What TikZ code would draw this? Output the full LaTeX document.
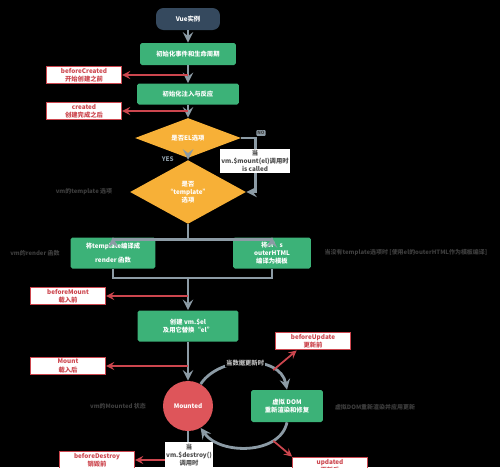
\documentclass[tikz,border=0pt]{standalone}
\usepackage{fontspec}
\setmainfont{Noto Sans CJK SC}
\usepackage{tikz}
\usetikzlibrary{shapes.geometric}

\definecolor{vuedark}{RGB}{53,73,94}
\definecolor{vuegreen}{RGB}{60,178,120}
\definecolor{vueorange}{RGB}{247,176,55}
\definecolor{mountred}{RGB}{222,85,90}
\definecolor{hookred}{RGB}{204,70,78}
\definecolor{wiregray}{RGB}{140,155,165}
\definecolor{dimgray}{RGB}{62,62,62}

\begin{document}
\begin{tikzpicture}[
    x=0.02cm, y=-0.02cm,
    every node/.style={font=\fontsize{3.6}{4.6}\selectfont\bfseries},
    start/.style={rectangle, fill=vuedark, text=white, rounded corners=0.15cm, minimum width=1.28cm, minimum height=0.44cm},
    stepbox/.style={rectangle, fill=vuegreen, text=white, rounded corners=1pt, align=center, inner sep=1pt},
    hook/.style={rectangle, draw=hookred, line width=0.8pt, fill=white, text=hookred, align=center, minimum width=1.5cm, minimum height=0.35cm, inner sep=0.5pt},
    note/.style={rectangle, fill=white, text=black!70, align=center, inner sep=0.5pt},
    cond/.style={diamond, fill=vueorange, text=white, align=center, inner sep=0pt},
    dim/.style={text=dimgray, font=\fontsize{3.4}{4.2}\selectfont\bfseries},
    arrow/.style={->, >=stealth, line width=1.6pt, draw=wiregray},
    wire/.style={line width=1.6pt, draw=wiregray},
    hookarrow/.style={->, >=stealth, line width=1pt, draw=hookred}
  ]
    % Background
    \fill[black] (0,0) rectangle (500,467);
    \useasboundingbox (0,0) rectangle (500,467);
    \clip (0,0) rectangle (500,467);

    % Creation
    \node[start] (vue) at (188,19) {Vue实例};
    \node[stepbox, minimum width=1.92cm, minimum height=0.44cm] (init1) at (188,54) {初始化事件和生命周期};
    \node[hook] (bc) at (84,75) {beforeCreated\\开始创建之前};
    \node[stepbox, minimum width=2.04cm, minimum height=0.42cm] (init2) at (188,94) {初始化注入与反应};
    \node[hook] (cr) at (84,111) {created\\创建完成之后};

    % Template choice
    \node[cond, minimum width=2.12cm, minimum height=0.8cm] (el) at (188,138) {是否EL选项};
    \node[cond, minimum width=2.32cm, minimum height=0.86cm] (tpl) at (188,192) {是否\\“template”\\选项};
    \node[dim] (tpltxt) at (84,192) {vm的template 选项};

    \node[stepbox, minimum width=1.7cm, minimum height=0.62cm] (render) at (113,253) {将template编译成\\[3pt]render 函数};
    \node[stepbox, minimum width=1.56cm, minimum height=0.62cm] (outer) at (272,253) {将el's\\outerHTML\\编译为模板};
    \node[dim] (rendertxt) at (35,253) {vm的render 函数};
    \node[dim] (outertxt) at (406,253) {当没有template选项时 [使用el的outerHTML作为模板编译]};

    % Mounting
    \node[hook] (bm) at (68,296) {beforeMount\\载入前};
    \node[stepbox, minimum width=2.02cm, minimum height=0.62cm] (create) at (188,326) {创建 vm.\$el\\及用它替换“el”};
    \node[hook] (mt) at (68,366) {Mount\\载入后};
    \node[circle, fill=mountred, text=white, minimum size=1cm, inner sep=0pt] (mounted) at (188,406) {Mounted};
    \node[dim] (mountedtxt) at (118,406) {vm的Mounted 状态};

    % Updating
    \node[stepbox, minimum width=1.44cm, minimum height=0.64cm] (dom) at (287,406) {虚拟 DOM\\重新渲染和修复};
    \node[dim] (domtxt) at (375,407) {虚拟DOM重新渲染并应用更新};
    \node[hook] (bu) at (313,341) {beforeUpdate\\更新前};
    \node[hook] (up) at (330,466) {updated\\更新后};

    % Destroying
    \node[hook] (bd) at (97,460) {beforeDestroy\\销毁前};

    % Main flow
    \draw[arrow] (vue) -- (init1);
    \draw[arrow] (init1) -- (init2);
    \draw[arrow] (init2) -- (el);
    \draw[arrow] (el) -- (tpl) node[midway, left=4pt, text=wiregray] (yes) {YES};
    \draw[arrow] (el.east) -- ++(14,0) coordinate (elr) |- (tpl.east);
    \node[rectangle, fill=wiregray, text=dimgray, rounded corners=0.5pt, inner sep=0.6pt, font=\fontsize{2.6}{3}\selectfont\bfseries] (no) at (261,133) {NO};
    \node[note, minimum width=1.32cm, minimum height=0.46cm] (mountnote) at (255,161) {当\\vm.\$mount(el)调用时\\is called};

    \draw[wire] (tpl.south) -- ++(0,15) coordinate (split);
    \draw[arrow] (split) -| (render.north);
    \draw[arrow] (split) -| (outer.north);
    \coordinate (join) at (188,278);
    \draw[wire] (render.south) |- (join) -| (outer.south);
    \draw[arrow] (join) -- (create);
    \draw[arrow] (create) -- (mounted);
    \draw[wire] (mounted) -- ++(0,40);
    \node[note, minimum width=0.92cm, minimum height=0.52cm] (destroy) at (189,455) {当\\vm.\$destroy()\\调用时};

    % Hooks
    \draw[hookarrow] (init2.north |- bc) -- (bc);
    \draw[hookarrow] (el.north |- cr) -- (cr);
    \draw[hookarrow] (create.north |- bm) -- (bm);
    \draw[hookarrow] (mounted.north |- mt) -- (mt);
    \draw[hookarrow] (destroy.west |- bd) -- (bd);

    % Update loop
    \draw[arrow] (mounted.60) .. controls (220,355) and (280,355) .. (dom.north)
      coordinate[pos=0.75] (looptop)
      node[pos=0.47, fill=black, text=black!25, inner sep=0.5pt] (changes) {当数据更新时};
    \draw[arrow] (dom.south) .. controls (280,455) and (220,455) .. (mounted.-60)
      coordinate[pos=0.25] (loopbot);
    \draw[hookarrow] (looptop) -- (bu.210);
    \draw[hookarrow] (loopbot) -- (up.166);

  \end{tikzpicture}
\end{document}
